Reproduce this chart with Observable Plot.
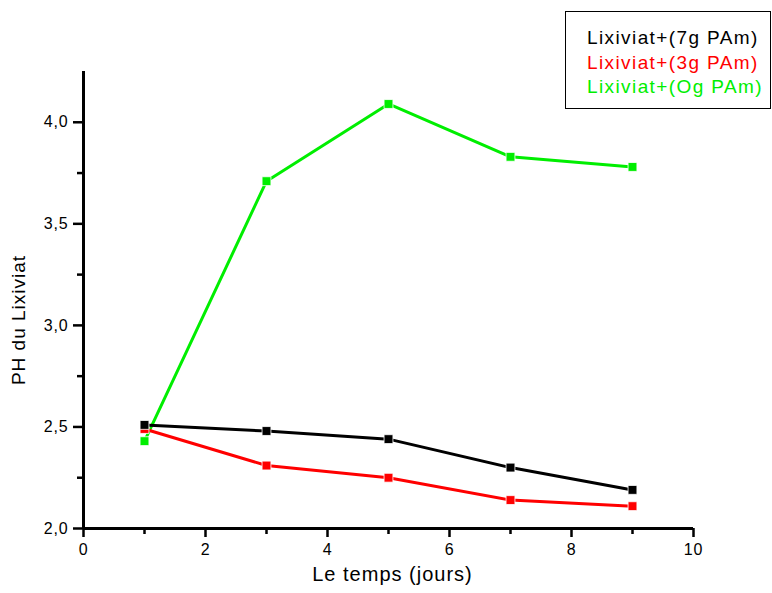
<!DOCTYPE html>
<html>
<head>
<meta charset="utf-8">
<script src="https://cdn.jsdelivr.net/npm/d3@7"></script>
<script src="https://cdn.jsdelivr.net/npm/@observablehq/plot@0.6"></script>
<style>
  html, body { margin: 0; padding: 0; background: #fff; }
  #wrap { position: relative; width: 772px; height: 593px; font-family: "Liberation Sans", Arial, sans-serif; }
  #legend { position: absolute; left: 565px; top: 11px; width: 206px; height: 98px; border: 1.5px solid #000; box-sizing: border-box; background: #fff; padding: 14px 0 0 21px; font-size: 19px; letter-spacing: 1.4px; line-height: 24.5px; }
  #legend div { white-space: nowrap; }
  .ticklab text { letter-spacing: 0.8px; }
  .biglab text { letter-spacing: 1px; }
  g[aria-label="x-axis tick"] path, g[aria-label="y-axis tick"] path { stroke-width: 2.5px; stroke: #000; }
</style>
</head>
<body>
<div id="wrap"></div>
<script>
const days = [1, 3, 5, 7, 9];
const ph7g = [2.51, 2.48, 2.44, 2.30, 2.19];
const ph3g = [2.49, 2.31, 2.25, 2.14, 2.11];
const ph0g = [2.43, 3.71, 4.09, 3.83, 3.78];
const seriesNames = ["Lixiviat+(7g PAm)", "Lixiviat+(3g PAm)", "Lixiviat+(Og PAm)"];
const seriesColors = ["#000000", "#ff0000", "#00ee00"];
const xMajorTicks = [0, 2, 4, 6, 8, 10];
const xMinorTicks = [1, 3, 5, 7, 9];
const yMajorTicks = [2.0, 2.5, 3.0, 3.5, 4.0];
const yMinorTicks = [2.25, 2.75, 3.25, 3.75];

const seriesValues = [ph7g, ph3g, ph0g];
const data = [];
seriesValues.forEach((vals, si) => vals.forEach((v, i) => data.push({series: seriesNames[si], x: days[i], y: v})));
const order = [2, 1, 0];
const fmt = d => d3.format(".1f")(d).replace(".", ",");
const blank = () => "";

const marks = [];
order.forEach(si => {
  const d = data.filter(r => r.series === seriesNames[si]);
  marks.push(Plot.line(d, {x: "x", y: "y", stroke: seriesColors[si], strokeWidth: 3}));
  marks.push(Plot.dot(d, {x: "x", y: "y", symbol: "square", r: 5, fill: seriesColors[si], stroke: "#fff", strokeWidth: 0.8}));
});

const chart = Plot.plot({
  width: 772,
  height: 593,
  marginLeft: 83,
  marginRight: 79,
  marginTop: 71,
  marginBottom: 65,
  style: {fontFamily: "'Liberation Sans', Arial, sans-serif", fontSize: "16px", color: "#000", background: "#fff"},
  x: {domain: [0, 10]},
  y: {domain: [2.0, 4.25]},
  marks: [
    Plot.axisY(yMinorTicks, {tickSize: 6, stroke: "#000", strokeWidth: 2.5, tickFormat: blank, label: null}),
    Plot.axisY(yMajorTicks, {tickSize: 10, stroke: "#000", strokeWidth: 2.5, tickPadding: 5, tickFormat: fmt, fontSize: 16, label: null, className: "ticklab"}),
    Plot.axisX(xMinorTicks, {tickSize: 6, stroke: "#000", strokeWidth: 2.5, tickFormat: blank, label: null}),
    Plot.axisX(xMajorTicks, {tickSize: 9, stroke: "#000", strokeWidth: 2.5, tickPadding: 6, tickFormat: d => String(d), fontSize: 16, label: null, className: "ticklab"}),
    Plot.ruleX([0], {y1: 2.0, y2: 4.25, strokeWidth: 3}),
    Plot.ruleY([2.0], {x1: 0, x2: 10, strokeWidth: 3}),
    Plot.text(["PH du Lixiviat"], {frameAnchor: "left", textAnchor: "middle", dx: -65, dy: 20, rotate: -90, fontSize: 19, text: d => d, className: "biglab"}),
    Plot.text(["Le temps (jours)"], {frameAnchor: "bottom", dx: 4, dy: 52, fontSize: 20, text: d => d, className: "biglab"}),
    ...marks
  ]
});

const wrap = document.getElementById("wrap");
wrap.appendChild(chart);
const legend = document.createElement("div");
legend.id = "legend";
seriesNames.forEach((n, i) => {
  const row = document.createElement("div");
  row.textContent = n;
  row.style.color = seriesColors[i];
  legend.appendChild(row);
});
wrap.appendChild(legend);
</script>
</body>
</html>
